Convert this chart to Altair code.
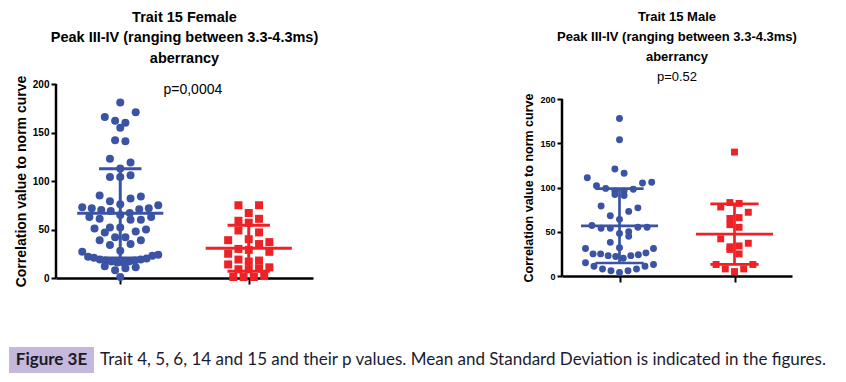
import math
import altair as alt
import pandas as pd

# ---------------- data ----------------
female_blue = [181, 171, 166, 162, 160, 155, 142, 141, 123, 119, 113, 106, 104, 104,
               85, 84, 82, 79, 76, 75, 73, 72, 72, 71, 70, 69, 67, 65, 63, 63, 61, 60, 60,
               52, 52, 51, 50, 48, 47, 42, 42, 39, 39, 35, 34, 28,
               27, 24, 23, 22, 21, 20, 19, 19, 18, 18, 17, 17, 16, 16,
               12, 11, 10, 8, 1]
female_red = [75, 75, 67, 61, 59, 57, 49, 47, 40, 39, 37, 35, 30, 29, 27, 25,
              19, 18, 17, 14, 11, 10, 9, 9, 2, 1, 1, 1]
male_blue = [178, 154, 121, 116, 111, 106, 105, 102, 99, 98, 96, 96, 92, 91,
             79, 77, 73, 68, 64, 57, 55, 55, 54, 54, 50, 48, 45, 38,
             32, 31, 31, 26, 25, 25, 24, 23, 23, 22, 20,
             15, 13, 11, 11, 8, 8, 6, 6, 4]
male_red = [140, 83, 82, 78, 72, 66, 65, 58, 55, 42, 37, 34, 33, 30, 25, 13, 13, 8, 8, 5]

female_mean = [66.7, 30.6]
female_sd = [46.0, 23.7]
male_mean = [56.7, 47.4]
male_sd = [42.0, 34.2]

y_ticks = [0, 50, 100, 150, 200]
y_max = 200
group_pos = [1, 3]
groups = ["g1", "g2"]
colors = ["#3A53A4", "#ED2227"]

female_title = ["Trait 15 Female", "Peak III-IV (ranging between 3.3-4.3ms)", "aberrancy"]
male_title = ["Trait 15 Male", "Peak III-IV (ranging between 3.3-4.3ms)", "aberrancy"]
female_p = "p=0,0004"
male_p = "p=0.52"
y_title = "Correlation value to norm curve"
caption_label = "Figure 3E"
caption_text = "Trait 4, 5, 6, 14 and 15 and their p values. Mean and Standard Deviation is indicated in the figures."

FONT = "Liberation Sans, Arial, sans-serif"


def row_scatter(vals, bin_w, origin, step, maxw):
    """Scatter-dot-plot layout: values binned into rows, spread centre-out (px offsets)."""
    bins = {}
    for i, v in enumerate(vals):
        bins.setdefault(int(math.floor((v - origin) / bin_w)), []).append(i)
    offs = [0.0] * len(vals)
    for k, idx in bins.items():
        idx.sort(key=lambda i: vals[i])
        n = len(idx)
        sp = step if n <= 1 else min(step, 2.0 * maxw / (n - 1))
        slots = [(j - (n - 1) / 2.0) * sp for j in range(n)]
        pos = sorted([p for p in slots if p > 1e-9])
        neg = sorted([p for p in slots if p < -1e-9], reverse=True)
        order = [p for p in slots if abs(p) <= 1e-9]
        flip = (k % 2 == 0)
        for a, b in zip(neg, pos):
            order += [a, b] if flip else [b, a]
            flip = not flip
        for i, p in zip(idx, order):
            offs[i] = p
    return offs


def panel(blue, red, means, sds, W, H, extra, title, subtitle, fs, lh, size, bin_w, origin,
          step, maxw, bar_w, cap, sw, tick_fs, axis_fs, title_pad, title_offset, ptext=None):
    ppu_x = W / 4.0
    Htot = H + extra
    ytop = y_max * Htot / float(H)
    rows = []
    for g, vals, c in [(groups[0], blue, group_pos[0]), (groups[1], red, group_pos[1])]:
        offs = row_scatter(vals, bin_w, origin, step, maxw)
        for v, o in zip(vals, offs):
            rows.append({"g": g, "x": c + o / ppu_x, "v": v})
    pts = pd.DataFrame(rows)
    stats = pd.DataFrame({"g": groups, "c": group_pos, "m": means, "sd": sds})
    stats["lo"] = stats["m"] - stats["sd"]
    stats["hi"] = stats["m"] + stats["sd"]
    stats["ml"] = stats["c"] - bar_w
    stats["mr"] = stats["c"] + bar_w
    stats["cl"] = stats["c"] - cap
    stats["cr"] = stats["c"] + cap

    xs = alt.Scale(domain=[0, 4], nice=False, zero=False)
    ys = alt.Scale(domain=[0, ytop], nice=False)
    cs = alt.Scale(domain=groups, range=colors)
    xaxis = alt.Axis(values=group_pos, labels=False, title=None, grid=False, tickSize=6,
                     tickWidth=2, tickColor="black", domainColor="black", domainWidth=2.5)
    yaxis = alt.Axis(values=y_ticks, title=y_title, grid=False, tickSize=5, tickWidth=2,
                     tickColor="black", domain=False,
                     labelFont=FONT, labelFontSize=tick_fs, labelFontWeight="bold",
                     labelColor="black", labelPadding=2,
                     titleFont=FONT, titleFontSize=axis_fs, titleFontWeight="bold",
                     titleColor="black", titlePadding=title_pad,
                     titleY=extra + H / 2.0)

    base = alt.Chart(pts)
    circles = base.transform_filter(alt.datum.g == groups[0]).mark_point(
        shape="circle", filled=True, size=size, opacity=1
    ).encode(
        x=alt.X("x:Q", scale=xs, axis=xaxis),
        y=alt.Y("v:Q", scale=ys, axis=yaxis),
        color=alt.Color("g:N", scale=cs, legend=None),
    )
    squares = base.transform_filter(alt.datum.g == groups[1]).mark_point(
        shape="square", filled=True, size=size, opacity=1
    ).encode(
        x=alt.X("x:Q", scale=xs),
        y=alt.Y("v:Q", scale=ys),
        color=alt.Color("g:N", scale=cs, legend=None),
    )
    # y axis line from 0 to 200
    axl = alt.Chart(pd.DataFrame({"x": [0], "y": [0], "y2": [y_max]})).mark_rule(
        color="black", strokeWidth=2.5
    ).encode(x=alt.X("x:Q", scale=xs), y=alt.Y("y:Q", scale=ys), y2="y2:Q")
    sb = alt.Chart(stats)
    mean_r = sb.mark_rule(strokeWidth=sw).encode(
        x=alt.X("ml:Q", scale=xs), x2="mr:Q", y=alt.Y("m:Q", scale=ys),
        color=alt.Color("g:N", scale=cs, legend=None))
    sd_r = sb.mark_rule(strokeWidth=sw).encode(
        x=alt.X("c:Q", scale=xs), y=alt.Y("lo:Q", scale=ys), y2="hi:Q",
        color=alt.Color("g:N", scale=cs, legend=None))
    hi_r = sb.mark_rule(strokeWidth=sw).encode(
        x=alt.X("cl:Q", scale=xs), x2="cr:Q", y=alt.Y("hi:Q", scale=ys),
        color=alt.Color("g:N", scale=cs, legend=None))
    lo_r = sb.mark_rule(strokeWidth=sw).encode(
        x=alt.X("cl:Q", scale=xs), x2="cr:Q", y=alt.Y("lo:Q", scale=ys),
        color=alt.Color("g:N", scale=cs, legend=None))
    layers = [circles, squares, axl, mean_r, sd_r, hi_r, lo_r]
    if ptext is not None:
        pt = alt.Chart(pd.DataFrame({"t": [ptext], "x": [2.13], "y": [194]})).mark_text(
            font=FONT, fontSize=14, color="black", align="center", baseline="middle"
        ).encode(x=alt.X("x:Q", scale=xs), y=alt.Y("y:Q", scale=ys), text="t:N")
        layers.append(pt)
    tp = dict(text=title, font=FONT, fontSize=fs, fontWeight="bold", color="black",
              lineHeight=lh, anchor="middle", frame="group", offset=title_offset)
    if subtitle:
        tp.update(subtitle=subtitle, subtitleFont=FONT, subtitleFontSize=fs,
                  subtitleColor="black", subtitleFontWeight="normal", subtitlePadding=7)
    return alt.layer(*layers).properties(width=W, height=Htot, title=alt.TitleParams(**tp))


left = panel(female_blue, female_red, female_mean, female_sd, 257, 194, 0, female_title, None,
             14.5, 20.5, 64, 12, 4, 10.3, 38, 0.67, 0.33, 3, 10, 14, 4, 9, female_p)
right = panel(male_blue, male_red, male_mean, male_sd, 230, 177, 15, male_title, male_p,
              13, 20, 48, 16, 0, 9.2, 34, 0.67, 0.42, 2.7, 9, 12.5, 4, 0)

cap_df = pd.DataFrame({"a": [caption_label], "b": [caption_text]})
cap_base = alt.Chart(cap_df)
cap_box = cap_base.mark_rect(color="#C5B8DC").encode(
    x=alt.value(-47), x2=alt.value(38), y=alt.value(0), y2=alt.value(26))
cap_lab = cap_base.mark_text(font="Lato", fontSize=17, fontWeight="bold", color="#1b1b24",
                             align="center", baseline="middle").encode(
    x=alt.value(-4.5), y=alt.value(13), text="a:N")
cap_txt = cap_base.mark_text(font="Lato", fontSize=17, color="#1b1b30",
                             align="left", baseline="middle").encode(
    x=alt.value(44), y=alt.value(13), text="b:N")
caption = alt.layer(cap_box, cap_lab, cap_txt).properties(width=40, height=26)

top = alt.hconcat(left, right, spacing=203)
chart = alt.vconcat(top, caption, spacing=60).properties(
    padding={"left": 1, "top": 1, "right": 5, "bottom": 0}
).configure_view(stroke=None)

chart.save("out.html", embed_options={"renderer": "svg", "actions": False})
